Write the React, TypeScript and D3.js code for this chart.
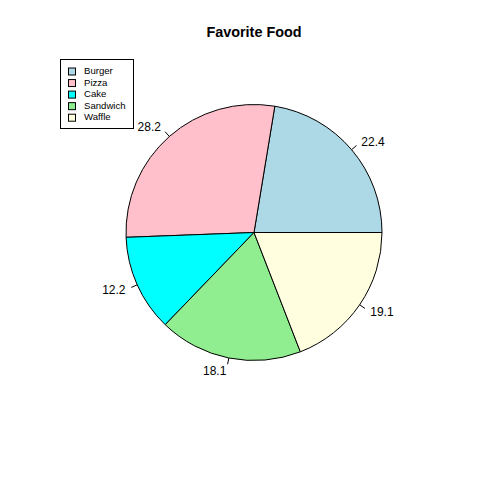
import React from 'react';
import * as d3 from 'd3';

const foods = ['Burger', 'Pizza', 'Cake', 'Sandwich', 'Waffle'];
const shares = [22.4, 28.2, 12.2, 18.1, 19.1];
const colors = ['#ADD8E6', '#FFC0CB', '#00FFFF', '#90EE90', '#FFFFE0'];

const W = 480;
const H = 480;
const cx = 254;
const cy = 232.5;
const r = 128;

export default function App() {
    // base R style pie: starts at 3 o'clock, goes counterclockwise
    const pie = d3
        .pie<number>()
        .sort(null)
        .startAngle(Math.PI / 2)
        .endAngle(Math.PI / 2 - 2 * Math.PI);
    const arcs = pie(shares);
    const arc = d3.arc<d3.PieArcDatum<number>>().innerRadius(0).outerRadius(r);

    const font = 'Arial, "Liberation Sans", sans-serif';

    return (
        <svg width={W} height={H} style={{ position: 'absolute', left: 0, top: 0 }}>
            <rect width={W} height={H} fill="#fff" />
            <text x={cx} y={37} textAnchor="middle" fontFamily={font} fontWeight="bold" fontSize={14.4}>
                Favorite Food
            </text>
            <g transform={`translate(${cx},${cy})`}>
                {arcs.map((a, i) => (
                    <path key={i} d={arc(a) || ''} fill={colors[i]} stroke="#000" strokeWidth={1} />
                ))}
                {arcs.map((a, i) => {
                    const mid = (a.startAngle + a.endAngle) / 2;
                    const sx = Math.sin(mid);
                    const sy = -Math.cos(mid);
                    return (
                        <g key={'l' + i}>
                            <line x1={sx * r} y1={sy * r} x2={sx * r * 1.05} y2={sy * r * 1.05} stroke="#000" />
                            <text
                                x={sx * r * 1.1}
                                y={sy * r * 1.1}
                                dy="0.36em"
                                textAnchor={sx > 0 ? 'start' : 'end'}
                                fontFamily={font}
                                fontSize={12}
                            >
                                {shares[i]}
                            </text>
                        </g>
                    );
                })}
            </g>
            <g>
                <rect x={60.5} y={59.5} width={73} height={69} fill="#fff" stroke="#000" />
                {foods.map((f, i) => {
                    const y = 71.5 + i * 11.55;
                    return (
                        <g key={f}>
                            <rect x={68.5} y={y - 3.5} width={7} height={7} fill={colors[i]} stroke="#000" />
                            <text x={84} y={y} dominantBaseline="middle" fontFamily={font} fontSize={9.6}>
                                {f}
                            </text>
                        </g>
                    );
                })}
            </g>
        </svg>
    );
}
